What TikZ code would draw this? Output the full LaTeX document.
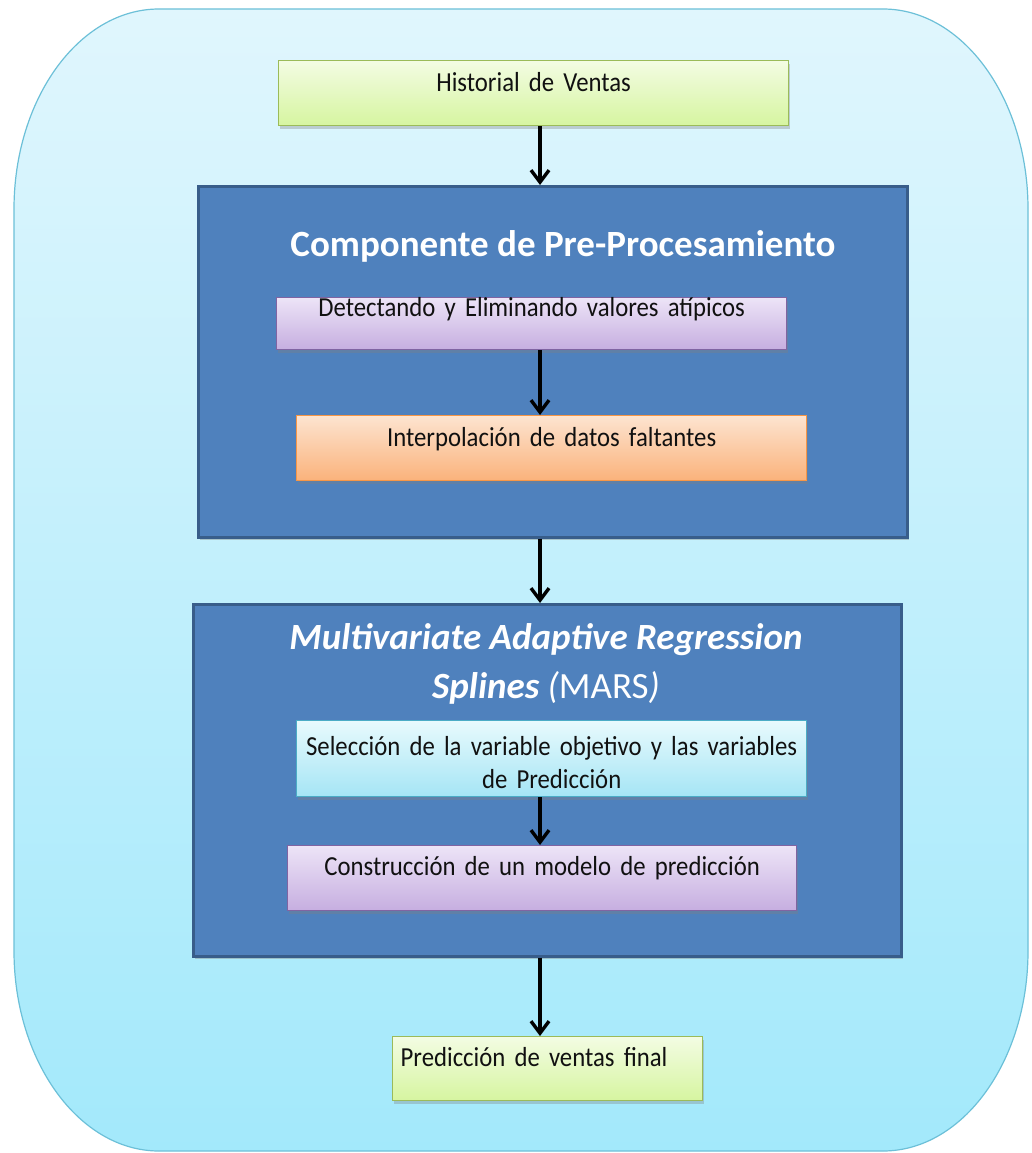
\documentclass[tikz,border=0pt]{standalone}
\usepackage{fontspec}
\setmainfont{Carlito}
\newfontfamily\bodyfont{Carlito}[FakeStretch=0.9]
\DeclareRobustCommand\bodyfmt{\bodyfont\fontsize{27.5}{33}\selectfont\spaceskip=5.5pt plus 1pt minus 1pt\relax}
\usetikzlibrary{arrows.meta,shadows}
\definecolor{outerTop}{HTML}{E0F6FD}
\definecolor{outerBot}{HTML}{A3E9FB}
\definecolor{outerLine}{HTML}{6CC0D8}
\definecolor{grTop}{HTML}{F3FCE3}
\definecolor{grBot}{HTML}{D6F5A0}
\definecolor{grLine}{HTML}{9BBB59}
\definecolor{puTop}{HTML}{EDE4F7}
\definecolor{puBot}{HTML}{C6AEE0}
\definecolor{puLine}{HTML}{8064A2}
\definecolor{orTop}{HTML}{FDE4D0}
\definecolor{orBot}{HTML}{FAB27B}
\definecolor{orLine}{HTML}{F79646}
\definecolor{cyTop}{HTML}{E8FAFD}
\definecolor{cyBot}{HTML}{A5E5F5}
\definecolor{cyLine}{HTML}{4BACC6}
\definecolor{bluFill}{HTML}{4F81BD}
\definecolor{bluLine}{HTML}{385D8A}
\definecolor{txt}{HTML}{111111}
\tikzset{
  boxbase/.style={rectangle, anchor=north west, inner sep=0pt, line width=1.3pt,
    align=center, text=txt, font=\bodyfmt,
    drop shadow={shadow xshift=1pt, shadow yshift=-3pt, opacity=0.35}},
  greenbox/.style={boxbase, draw=grLine, top color=grTop, bottom color=grBot},
  purplebox/.style={boxbase, draw=puLine, top color=puTop, bottom color=puBot},
  orangebox/.style={boxbase, draw=orLine, top color=orTop, bottom color=orBot},
  cyanbox/.style={boxbase, draw=cyLine, top color=cyTop, bottom color=cyBot},
  bluebox/.style={rectangle, anchor=north west, inner sep=0pt, draw=bluLine, line width=2.5pt,
    fill=bluFill, drop shadow={shadow xshift=2pt, shadow yshift=-3pt, opacity=0.4}},
  titletext/.style={anchor=base, text=white, inner sep=0pt, font=\fontsize{37}{44}\selectfont\bfseries},
  arr/.style={line width=3.4pt, -{Straight Barb[length=12pt,width=18pt,line width=3.4pt]}},
}
\begin{document}
\begin{tikzpicture}[x=1pt,y=-1pt]
\useasboundingbox[fill=white] (0,0) rectangle (1031,1153);
% outer rounded panel
\path[draw=outerLine, line width=1.2pt, top color=outerTop, bottom color=outerBot]
  (14,209) -- (14,951) .. controls (14,1061) and (79,1151) .. (159,1151)
  -- (883,1151) .. controls (963,1151) and (1028,1061) .. (1028,951)
  -- (1028,209) .. controls (1028,99) and (963,9) .. (883,9)
  -- (159,9) .. controls (79,9) and (14,99) .. (14,209) -- cycle;
\coordinate (ax) at (540,0);

\node[greenbox, minimum width=510pt, text width=510pt, text height=31pt, text depth=34pt]
  (hist) at (278,60) {Historial de Ventas};

\node[bluebox, minimum width=709pt, minimum height=351pt] (pre) at (197,185) {};
\node[titletext] (pretitle) at (563,256) {Componente de Pre-Procesamiento};

\node[purplebox, minimum width=510pt, text width=510pt, text height=19pt, text depth=33pt]
  (outl) at (276,297) {Detectando y Eliminando valores atípicos};
\node[orangebox, minimum width=510pt, text width=510pt, text height=31pt, text depth=34pt]
  (interp) at (296,415) {Interpolación de datos faltantes};

\node[bluebox, minimum width=708pt, minimum height=352pt] (mars) at (192,603) {};
\node[titletext] (marsa) at (546,649) {\itshape Multivariate Adaptive Regression};
\node[titletext] (marsb) at (546,698) {\itshape Splines {\mdseries(}\upshape\mdseries MARS\itshape)};

\node[cyanbox, minimum width=510pt, text width=510pt, text height=35pt, text depth=41pt]
  (sel) at (296,720) {Selección de la variable objetivo y las variables\\de Predicción};
\node[purplebox, minimum width=509pt, text width=509pt, text height=30pt, text depth=35pt]
  (model) at (287,845) {Construcción de un modelo de predicción};

\node[greenbox, minimum width=310pt, text width=294pt, inner xsep=8pt, align=left, text height=30pt, text depth=34pt]
  (final) at (392,1036) {Predicción de ventas final};

\draw[arr] (hist.south -| ax) -- (pre.north -| ax);
\draw[arr] (outl.south -| ax) -- (interp.north -| ax);
\draw[arr] (pre.south -| ax) -- (mars.north -| ax);
\draw[arr] (sel.south -| ax) -- (model.north -| ax);
\draw[arr] (mars.south -| ax) -- (final.north -| ax);
\end{tikzpicture}
\end{document}
